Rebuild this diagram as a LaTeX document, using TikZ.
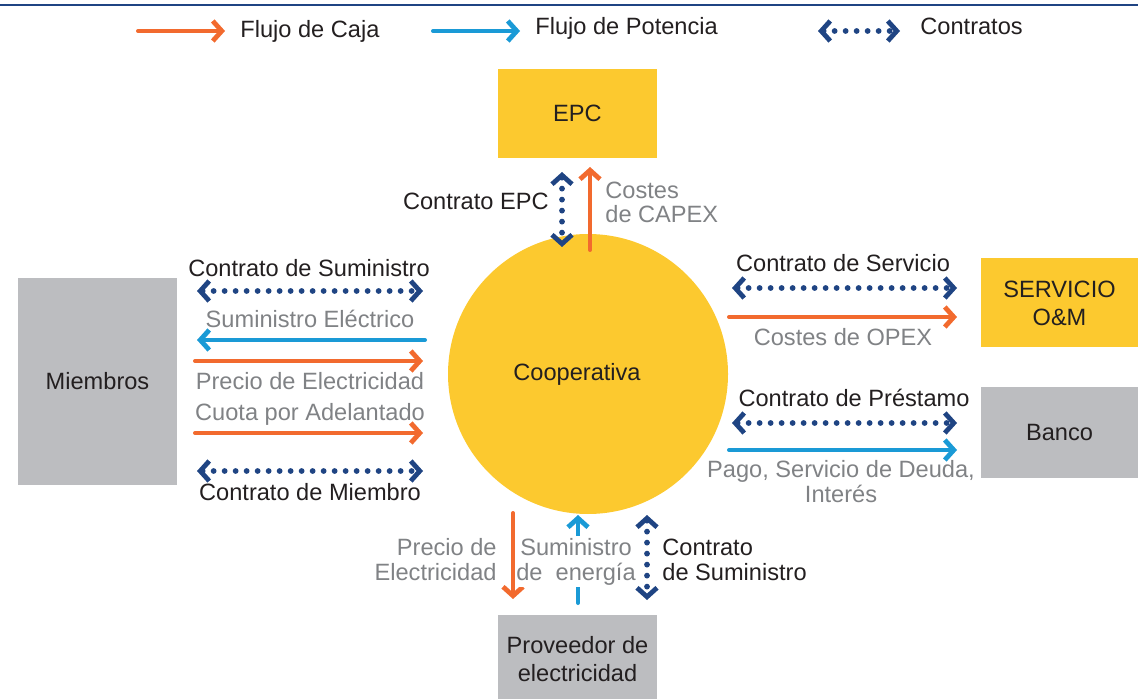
\documentclass[tikz,border=0pt]{standalone}
\usepackage{fontspec}
\setmainfont{Liberation Sans}
\usetikzlibrary{arrows.meta}

\definecolor{cajaorange}{HTML}{F26A2E}
\definecolor{potblue}{HTML}{1A9AD6}
\definecolor{contblue}{HTML}{1F4483}
\definecolor{coopyellow}{HTML}{FCC92F}
\definecolor{boxgray}{HTML}{BCBDC0}
\definecolor{labelgray}{HTML}{808285}
\definecolor{inkblack}{HTML}{231F20}

\tikzset{
  chev/.tip={Straight Barb[length=4.5pt,width=10pt,line width=2.4pt]},
  lbl/.style={font=\fontsize{11.8}{12.4}\selectfont, text=inkblack, inner sep=0pt},
  glbl/.style={lbl, text=labelgray},
  box/.style={font=\fontsize{11.8}{14}\selectfont, text=inkblack, align=center, inner sep=0pt,
    minimum width=79.5pt, minimum height=44.5pt},
  caja/.style={cajaorange, line width=2pt, line cap=round, -chev},
  potencia/.style={potblue, line width=2pt, line cap=round, -chev},
  contrato/.style={contblue, line width=2.9pt, line cap=round, dash pattern=on 0pt off 5.5pt, chev-chev},
}

\begin{document}
\begin{tikzpicture}[x=0.5pt,y=-0.5pt]
  \useasboundingbox (0,0) rectangle (1138,699);
  \draw[contblue, line width=1.3pt] (0,5) -- (1138,5);

  % legend
  \coordinate (legCajaA) at (138,31); \coordinate (legCajaB) at (225,31);
  \coordinate (legPotA) at (433,31); \coordinate (legPotB) at (520,31);
  \coordinate (legConA) at (818,31); \coordinate (legConB) at (900,31);
  \draw[caja] (legCajaA) -- (legCajaB);
  \draw[potencia] (legPotA) -- (legPotB);
  \draw[contrato] (legConA) -- (legConB);
  \node[lbl, anchor=base west] (legCaja) at (240,38) {Flujo de Caja};
  \node[lbl, anchor=base west] (legPot) at (535,35) {Flujo de Potencia};
  \node[lbl, anchor=base west] (legCon) at (920,35) {Contratos};

  % boxes
  \node[box, fill=coopyellow] (epc) at (577.5,113.5) {EPC};
  \node[box, fill=coopyellow, minimum width=78.5pt] (om) at (1059.5,303) {SERVICIO\\O\&M};
  \node[box, fill=boxgray, minimum width=78.5pt, minimum height=45.5pt] (banco) at (1059.5,432.5) {Banco};
  \node[box, fill=boxgray, minimum height=103.5pt] (miembros) at (97.5,381.5) {Miembros};
  \node[box, fill=boxgray] (prov) at (577.5,659) {Proveedor de\\electricidad};
  \node[circle, fill=coopyellow, minimum size=140pt, inner sep=0pt, font=\fontsize{11.8}{14}\selectfont,
    text=inkblack] (coop) at (588,374) {\hspace*{-11pt}Cooperativa};

  % EPC
  \coordinate (epcConA) at (562,172); \coordinate (epcConB) at (562,247);
  \coordinate (capexA) at (590,250); \coordinate (capexB) at (590,167);
  \draw[contrato] (epcConA) -- (epcConB);
  \draw[caja] (capexA) -- (capexB);
  \node[lbl, anchor=base east] (cEpc) at (549,210) {Contrato EPC};
  \node[glbl, anchor=base west, align=left] (capex) at (605,223) {Costes\\de CAPEX};

  % Miembros
  \coordinate (mSumA) at (197,291); \coordinate (mSumB) at (423,291);
  \coordinate (mElA) at (425,340); \coordinate (mElB) at (197,340);
  \coordinate (mPreA) at (195,361); \coordinate (mPreB) at (423,361);
  \coordinate (mCuoA) at (195,433); \coordinate (mCuoB) at (423,433);
  \coordinate (mMieA) at (197,471); \coordinate (mMieB) at (423,471);
  \draw[contrato] (mSumA) -- (mSumB);
  \draw[potencia] (mElA) -- (mElB);
  \draw[caja] (mPreA) -- (mPreB);
  \draw[caja] (mCuoA) -- (mCuoB);
  \draw[contrato] (mMieA) -- (mMieB);
  \node[lbl, anchor=base] (cSum) at (309,277) {Contrato de Suministro};
  \node[glbl, anchor=base] (sumEl) at (310,328) {Suministro Eléctrico};
  \node[glbl, anchor=base] (precio) at (310,390) {Precio de Electricidad};
  \node[glbl, anchor=base] (cuota) at (310,420) {Cuota por Adelantado};
  \node[lbl, anchor=base] (cMiem) at (310,500) {Contrato de Miembro};

  % Servicio O&M y Banco
  \coordinate (sConA) at (732,288); \coordinate (sConB) at (957,288);
  \coordinate (sOpA) at (729,317); \coordinate (sOpB) at (957,317);
  \coordinate (bConA) at (732,423); \coordinate (bConB) at (957,423);
  \coordinate (bPagA) at (729,450); \coordinate (bPagB) at (957,450);
  \draw[contrato] (sConA) -- (sConB);
  \draw[caja] (sOpA) -- (sOpB);
  \draw[contrato] (bConA) -- (bConB);
  \draw[potencia] (bPagA) -- (bPagB);
  \node[lbl, anchor=base] (cServ) at (843,272) {Contrato de Servicio};
  \node[glbl, anchor=base] (opex) at (843,346) {Costes de OPEX};
  \node[lbl, anchor=base] (cPrest) at (854,407) {Contrato de Préstamo};
  \node[glbl, anchor=base, align=center] (pago) at (841,502) {Pago, Servicio de Deuda,\\Interés};

  % Proveedor
  \coordinate (pPreA) at (513,513); \coordinate (pPreB) at (513,599);
  \coordinate (pEnA) at (578,603); \coordinate (pEnB) at (578,515);
  \coordinate (pConA) at (647,515); \coordinate (pConB) at (647,600);
  \draw[caja] (pPreA) -- (pPreB);
  \draw[potencia] (pEnA) -- (pEnB);
  \draw[contrato] (pConA) -- (pConB);
  \node[glbl, anchor=base east, align=right] (precioB) at (497,580) {Precio de\\Electricidad};
  \node[glbl, anchor=base, align=center, fill=white, inner ysep=1pt] (sumEn) at (576,580) {Suministro\\de~~energía};
  \node[lbl, anchor=base west, align=left] (cSumB) at (662,580) {Contrato\\de Suministro};
\end{tikzpicture}
\end{document}
